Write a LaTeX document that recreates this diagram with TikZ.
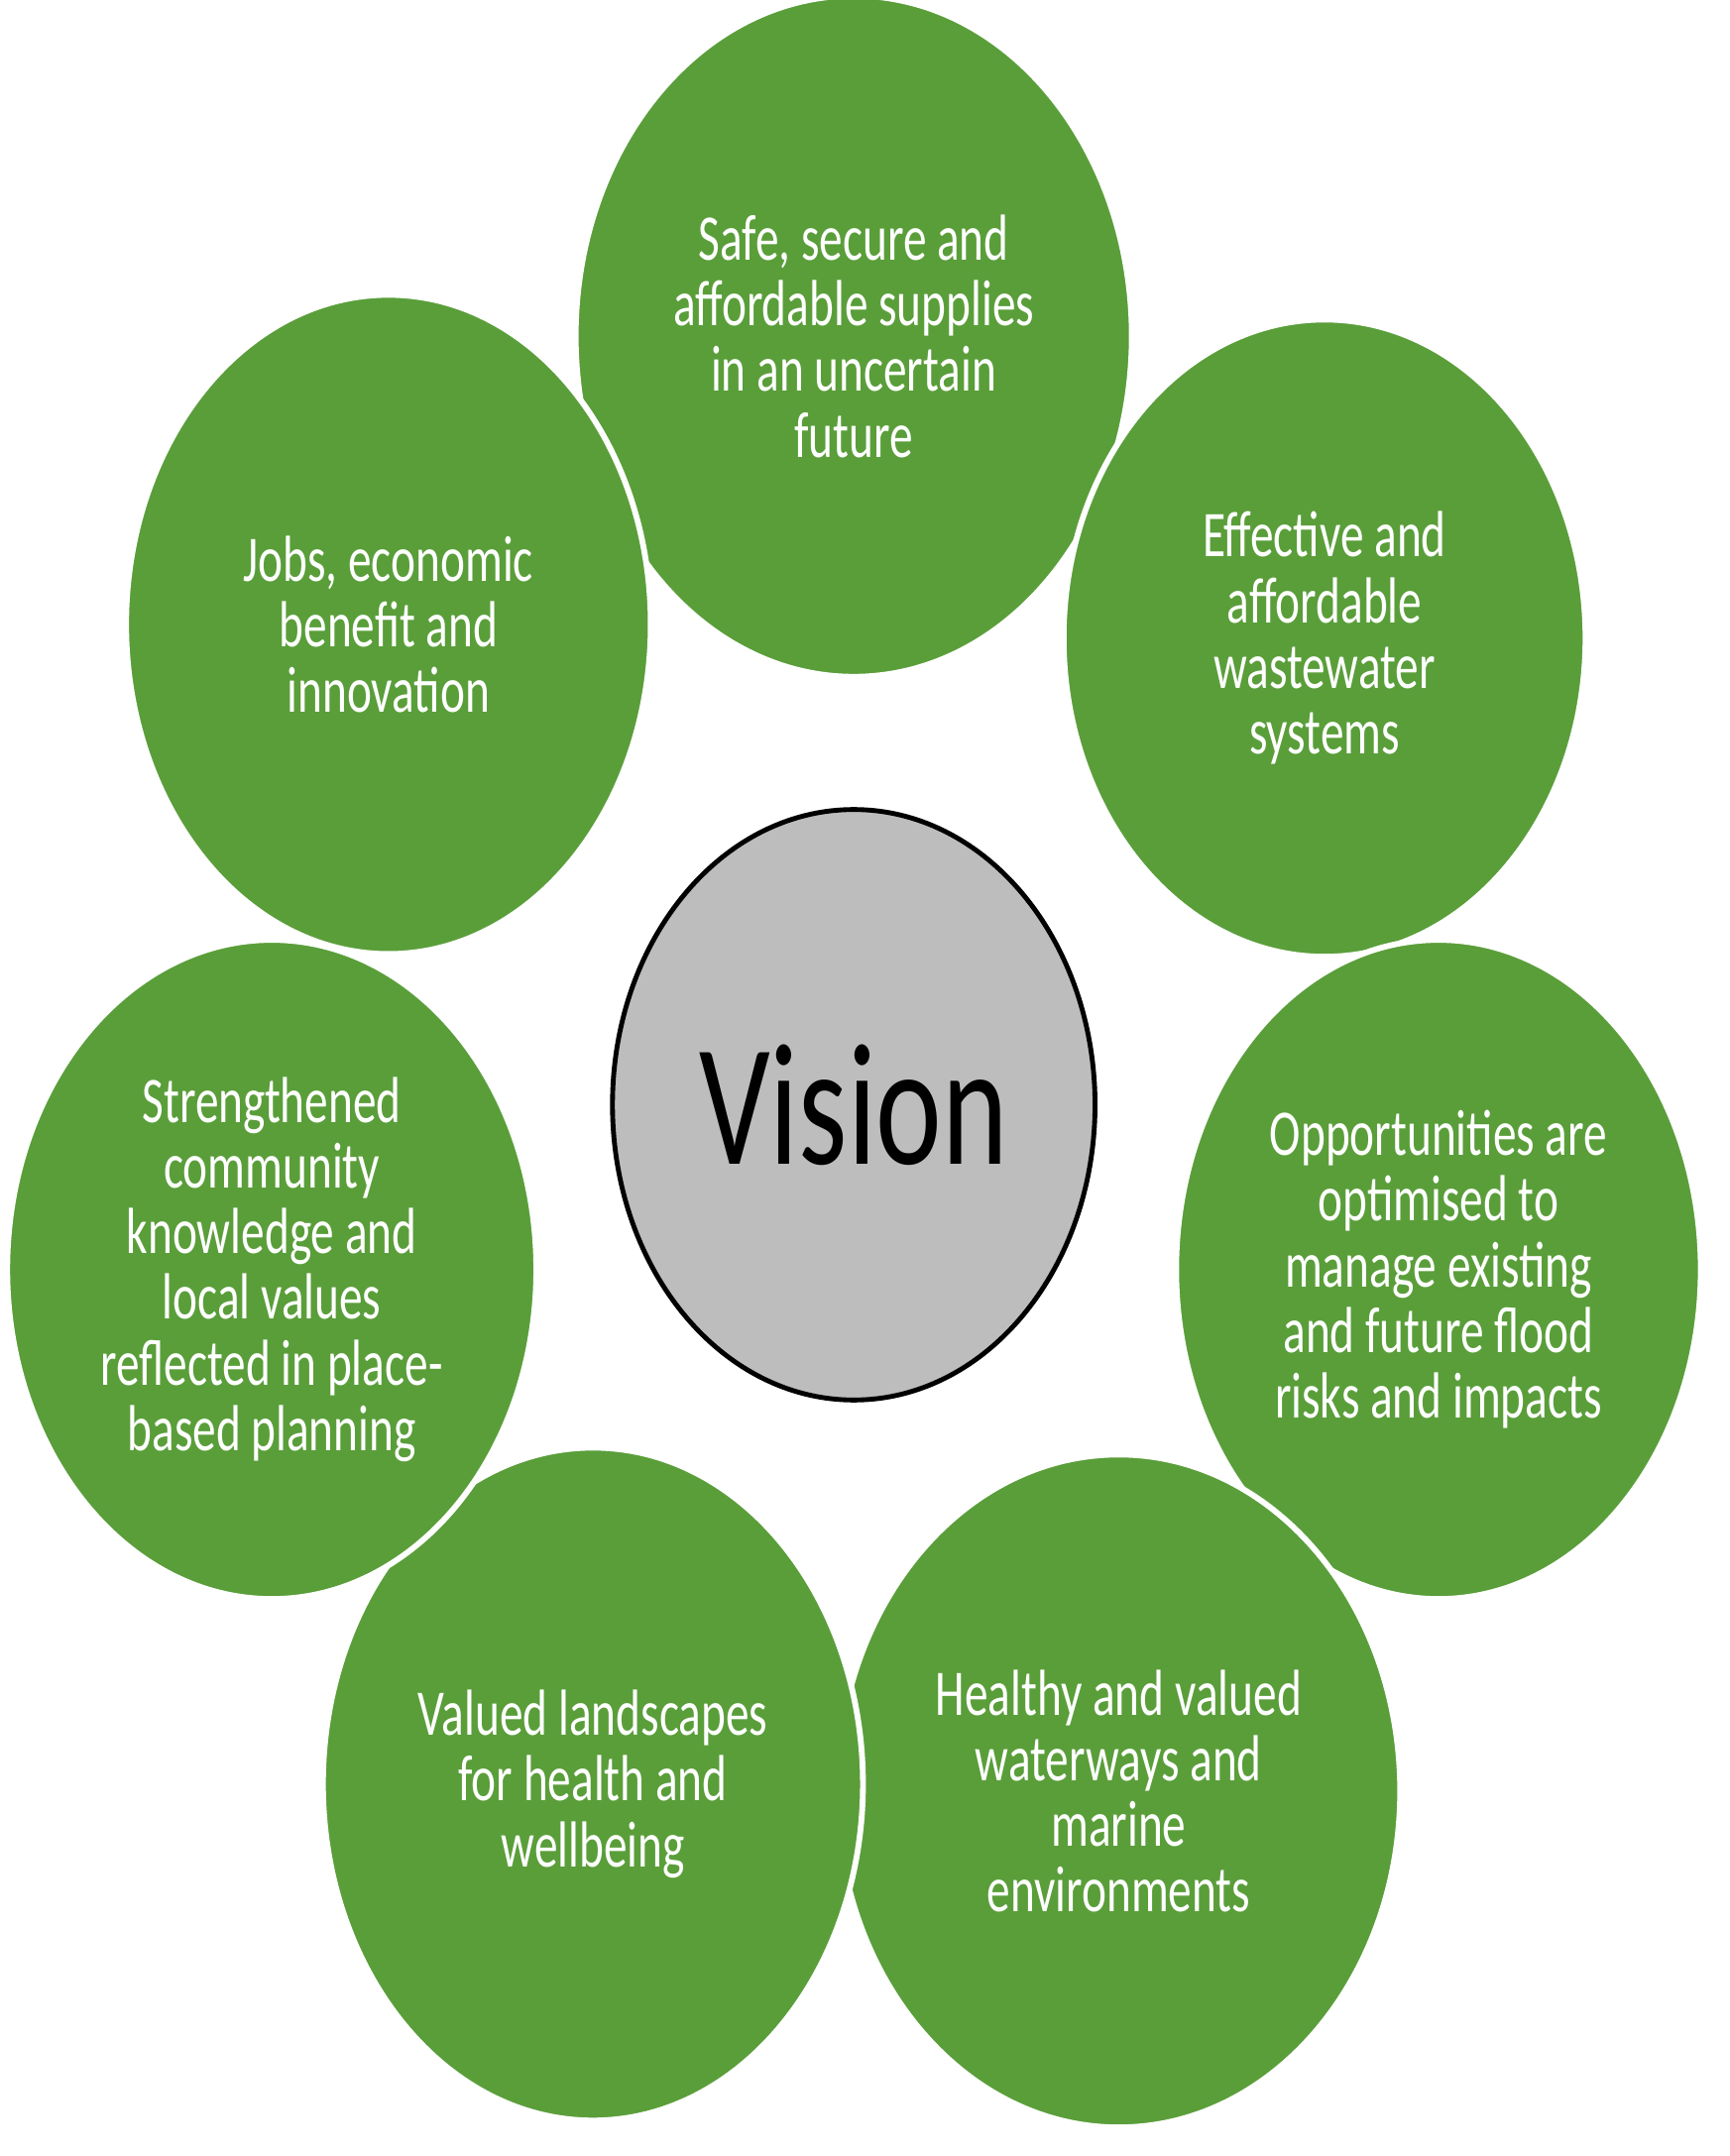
\documentclass[tikz,border=0pt]{standalone}
\usepackage{fontspec}
\setmainfont[FakeStretch=0.72]{Carlito}
\usetikzlibrary{shapes.geometric}
\definecolor{goalgreen}{HTML}{5A9E3A}
\definecolor{visiongray}{HTML}{BDBDBD}
\begin{document}
\begin{tikzpicture}[x=0.01cm,y=-0.01cm,
    goal/.style={ellipse, fill=goalgreen, draw=white, line width=1.2pt,
      text=white, align=center, font=\fontsize{13.5}{13.6}\selectfont},
    vision/.style={ellipse, fill=visiongray, draw=black, line width=1pt,
      minimum width=344\pgflinewidth, font=\fontsize{36}{40}\selectfont}]
  \useasboundingbox (0,0) rectangle (1260,1571);

  % GOALS
  \node [goal, minimum width=3.8cm, minimum height=4.96cm] (supply) at (622,245)
    {Safe, secure and\\affordable supplies\\in an uncertain\\future};
  \node [goal, minimum width=3.8cm, minimum height=4.64cm] (waste) at (965,465)
    {Effective and\\affordable\\wastewater\\systems};
  \node [goal, minimum width=3.82cm, minimum height=4.8cm] (flood) at (1048,925)
    {Opportunities are\\optimised to\\manage existing\\and future flood\\risks and impacts};
  \node [goal, minimum width=3.78cm, minimum height=4.9cm] (waterways) at (815,1305)
    {Healthy and valued\\waterways and\\marine\\environments};
  \node [goal, minimum width=3.8cm, minimum height=4.9cm] (landscape) at (432,1300)
    {Valued landscapes\\for health and\\wellbeing};
  \node [goal, minimum width=3.84cm, minimum height=4.8cm] (community) at (198,925)
    {Strengthened\\community\\knowledge and\\local values\\reflected in place-\\based planning};
  \node [goal, minimum width=3.82cm, minimum height=4.8cm] (jobs) at (283,455)
    {Jobs, economic\\benefit and\\innovation};

  % CENTRE
  \node [vision, minimum width=3.44cm, minimum height=4.3cm] (vision) at (622,805) {Vision};
\end{tikzpicture}
\end{document}
